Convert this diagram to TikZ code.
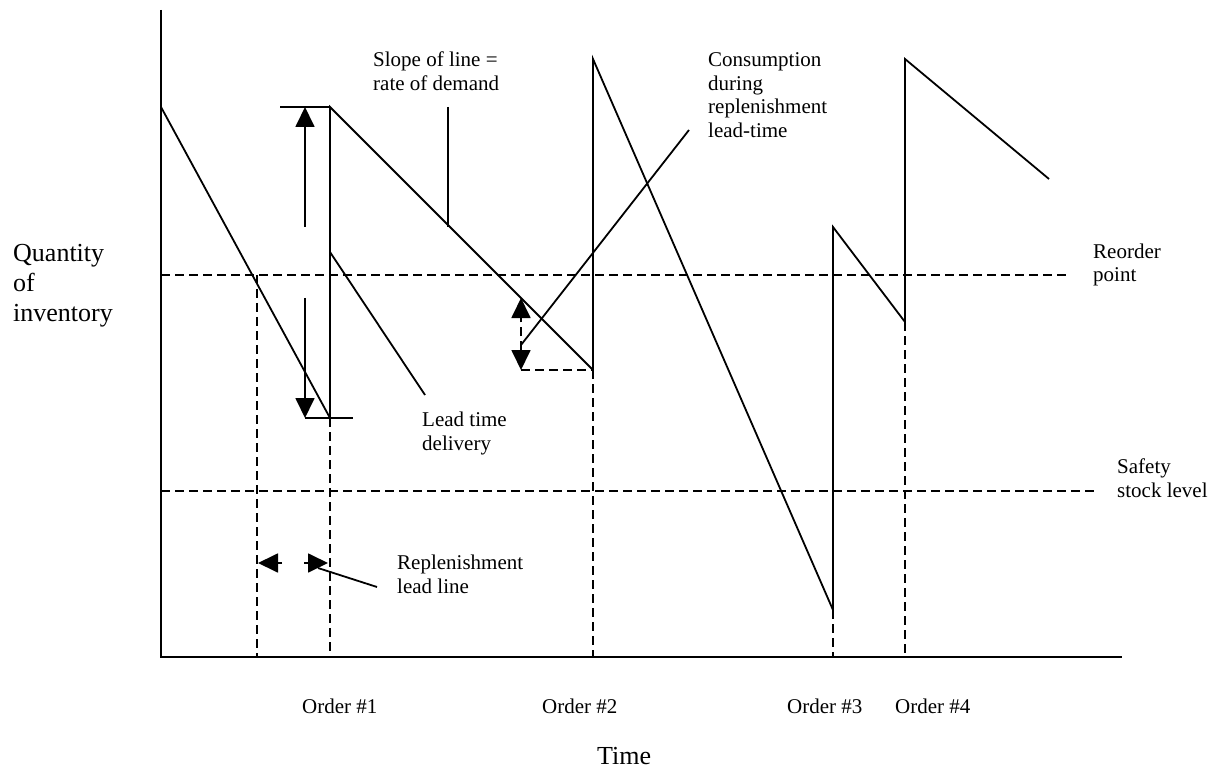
\documentclass[tikz,border=0pt]{standalone}
\usepackage{fontspec}
\setmainfont{Liberation Serif}
\usetikzlibrary{arrows.meta}
\begin{document}
\begin{tikzpicture}[x=1pt,y=-1pt,
  ln/.style={line width=1.8pt},
  axisln/.style={line width=2.6pt},
  dsh/.style={line width=1.8pt, dash pattern=on 9pt off 5pt},
  tipend/.style={-{Triangle[length=20pt,width=19pt]}},
  tipboth/.style={{Triangle[length=20pt,width=19pt]}-{Triangle[length=20pt,width=19pt]}},
  lbl/.style={font=\fontsize{21}{23.5}\selectfont, inner sep=0pt, anchor=base west, align=left},
  biglbl/.style={font=\fontsize{26}{30}\selectfont, inner sep=0pt, anchor=base west, align=left}]
\useasboundingbox (0,0) rectangle (1219,770);
\fill[white] (0,0) rectangle (1219,770);

% axes
\coordinate (O) at (161,657);
\coordinate (Ytop) at (161,10);
\coordinate (Xend) at (1122,657);
\draw[axisln] (Ytop) -- (O) -- (Xend);

% key points of the inventory curve
\coordinate (A0) at (161,107);
\coordinate (A1) at (330,418);
\coordinate (B0) at (330,107);
\coordinate (B1) at (593,370);
\coordinate (C0) at (593,59);
\coordinate (C1) at (833,610);
\coordinate (D0) at (833,227);
\coordinate (D1) at (905,322);
\coordinate (E0) at (905,59);
\coordinate (E1) at (1049,179);

\draw[ln] (A0) -- (A1) -- (B0) -- (B1) -- (C0) -- (C1) -- (D0) -- (D1) -- (E0) -- (E1);

% reorder point and safety stock lines
\coordinate (R0) at (161,275);
\coordinate (R1) at (1070,275);
\coordinate (S0) at (161,491);
\coordinate (S1) at (1097,491);
\draw[dsh] (R0) -- (R1);
\draw[dsh] (S0) -- (S1);

% order drop lines
\coordinate (Q0) at (257,275);
\coordinate (Q0b) at (257,657);
\coordinate (A1b) at (330,657);
\coordinate (B1b) at (593,657);
\coordinate (C1b) at (833,657);
\coordinate (D1b) at (905,657);
\draw[dsh] (Q0) -- (Q0b);
\draw[dsh] (A1) -- (A1b);
\draw[dsh] (B1) -- (B1b);
\draw[dsh] (C1) -- (C1b);
\draw[dsh] (D1) -- (D1b);

% lead time delivery dimension
\coordinate (T0) at (280,107);
\coordinate (T1) at (305,418);
\coordinate (T2) at (353,418);
\draw[ln] (T0) -- (B0);
\draw[ln] (T1) -- (T2);
\coordinate (U0) at (305,227);
\coordinate (U1) at (305,107);
\coordinate (V0) at (305,298);
\draw[ln, tipend] (U0) -- (U1);
\draw[ln, tipend] (V0) -- (T1);

% consumption during lead time
\coordinate (W0) at (521,370);
\coordinate (W1) at (521,298);
\draw[dsh] (W0) -- (B1);
\draw[dsh, tipboth] (W0) -- (W1);

% replenishment lead line arrows
\coordinate (L0) at (282,563);
\coordinate (L1) at (258,563);
\coordinate (M0) at (304,563);
\coordinate (M1) at (328,563);
\draw[ln, tipend] (L0) -- (L1);
\draw[ln, tipend] (M0) -- (M1);

% labels (anchor = baseline of the last line)
\node[biglbl] (qty) at (13,322) {Quantity\\of\\inventory};
\node[biglbl] (time) at (597,764) {Time};
\node[lbl] (slope) at (373,90.5) {Slope of line =\\rate of demand};
\node[lbl] (cons) at (708,137.5) {Consumption\\during\\replenishment\\lead-time};
\node[lbl] (reorder) at (1093,282) {Reorder\\point};
\node[lbl] (safety) at (1117,497) {Safety\\stock level};
\node[lbl] (lead) at (422,450) {Lead time\\delivery};
\node[lbl] (repl) at (397,593) {Replenishment\\lead line};
\node[lbl] (o1) at (302,713) {Order \#1};
\node[lbl] (o2) at (542,713) {Order \#2};
\node[lbl] (o3) at (787,713) {Order \#3};
\node[lbl] (o4) at (895,713) {Order \#4};

% leader lines
\coordinate (sl0) at (448,107);
\coordinate (sl1) at (448,227);
\draw[ln] (sl0) -- (sl1);
\coordinate (cl0) at (521,345);
\coordinate (cl1) at (689,130);
\draw[ln] (cl0) -- (cl1);
\coordinate (ll0) at (330,252);
\coordinate (ll1) at (425,395);
\draw[ln] (ll0) -- (ll1);
\coordinate (rl0) at (318,568);
\coordinate (rl1) at (377,587);
\draw[ln] (rl0) -- (rl1);
\end{tikzpicture}
\end{document}
